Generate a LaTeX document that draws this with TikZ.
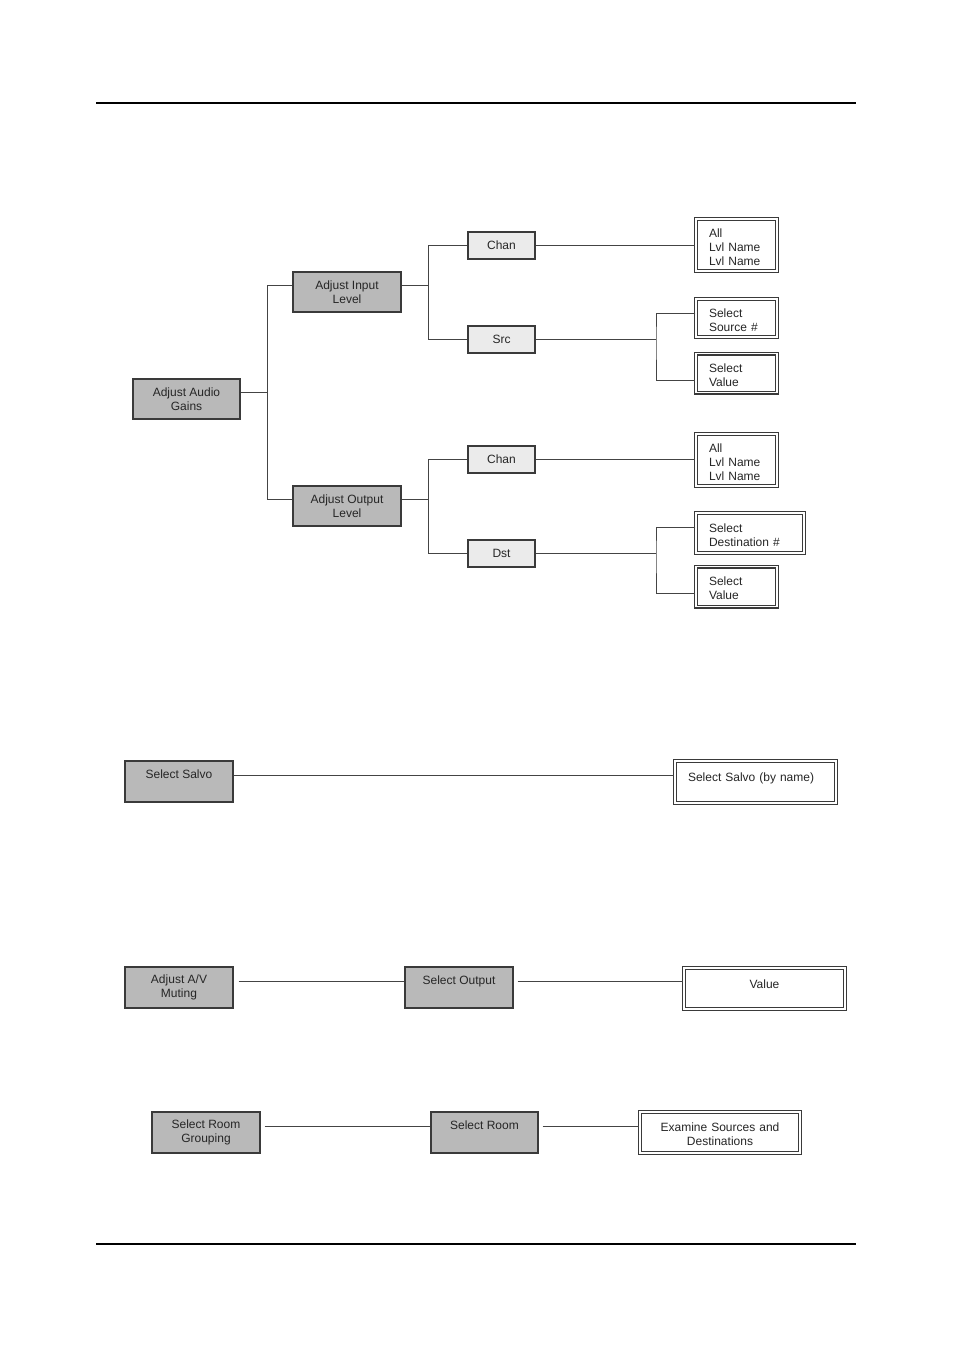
\documentclass[tikz,border=0pt]{standalone}
\usepackage{fontspec}
\setmainfont{Liberation Sans}
\usepackage{xcolor}
\usetikzlibrary{positioning,calc}
\definecolor{ink}{HTML}{3A3A3A}
\definecolor{wiregray}{HTML}{444444}
\definecolor{menugray}{HTML}{B9B9B9}
\definecolor{keygray}{HTML}{EBEBEB}
\definecolor{txt}{HTML}{262626}
\newcommand\boxfont{\fontsize{12}{14}\selectfont}
\tikzset{
  menubox/.style={draw=ink,line width=1.2pt,fill=menugray,inner sep=0pt,text=txt,
                  minimum width=108pt,minimum height=41pt,align=center,font=\boxfont},
  keybox/.style={draw=ink,line width=1.2pt,fill=keygray,inner sep=0pt,text=txt,
                 minimum width=67pt,minimum height=27pt,align=center,font=\boxfont},
  optbox/.style={draw=ink,line width=1.3pt,double=white,double distance=1.4pt,text=txt,
                 fill=white,inner sep=0pt,text height=13pt,align=left,font=\boxfont},
  wire/.style={draw=wiregray,line width=1pt}
}

\begin{document}
\begin{tikzpicture}[x=1pt,y=-1pt]
  \useasboundingbox (0,0) rectangle (953,1352);
  % page rules
  \draw[line width=2pt] (96,103) -- (856,103);
  \draw[line width=2pt] (96,1244) -- (856,1244);

  % audio gains tree
  \node[menubox,minimum width=107pt,minimum height=40pt] (audio)  at (186.5,399) {Adjust Audio\\Gains};
  \node[menubox,minimum height=40pt] (inlvl)  at (347,292) {Adjust Input\\Level};
  \node[menubox,minimum height=40pt] (outlvl) at (347,506) {Adjust Output\\Level};

  \node[keybox] (chanin)  at (501.5,245.5) {Chan};
  \node[keybox] (src)     at (501.5,339.5) {Src};
  \node[keybox] (chanout) at (501.5,459.5) {Chan};
  \node[keybox] (dst)     at (501.5,553.5) {Dst};

  \node[optbox,minimum width=81pt,minimum height=52pt,text width=55pt] (allin)  at (736.5,245) {All\\Lvl Name\\Lvl Name};
  \node[optbox,minimum width=81pt,minimum height=38pt,text width=55pt] (srcnum) at (736.5,318) {Select\\Source \#};
  \node[optbox,minimum width=81pt,minimum height=39pt,text width=55pt] (valin)  at (736.5,373) {Select\\Value};
  \node[optbox,minimum width=81pt,minimum height=52pt,text width=55pt] (allout) at (736.5,460) {All\\Lvl Name\\Lvl Name};
  \node[optbox,minimum width=108pt,minimum height=40pt,text width=82pt] (dstnum) at (750,533) {Select\\Destination \#};
  \node[optbox,minimum width=81pt,minimum height=40pt,text width=55pt] (valout) at (736.5,586.5) {Select\\Value};

  \draw[wire] ([yshift=7pt]audio.east) -- ++(27,0) coordinate (bra);
  \draw[wire] ([yshift=7pt]inlvl.west) -| (bra) |- ([yshift=7pt]outlvl.west);
  \draw[wire] ([yshift=7pt]inlvl.east) -- ++(27,0) coordinate (brin);
  \draw[wire] (chanin.west) -| (brin) |- (src.west);
  \draw[wire] ([yshift=7pt]outlvl.east) -- ++(27,0) coordinate (brout);
  \draw[wire] (chanout.west) -| (brout) |- (dst.west);

  \draw[wire] (chanin.east) -- (chanin.east -| allin.west);
  \draw[wire] (chanout.east) -- (chanout.east -| allout.west);
  \coordinate (brsrc) at (656,339.5);
  \draw[wire] (src.east) -- (brsrc);
  \draw[wire] ([yshift=5pt]srcnum.west) -| (brsrc) |- ([yshift=-7pt]valin.west);
  \coordinate (brdst) at (656,553.5);
  \draw[wire] (dst.east) -- (brdst);
  \draw[wire] ([yshift=6pt]dstnum.west) -| (brdst) |- ([yshift=-6.5pt]valout.west);

  % salvo
  \node[menubox] (salvo) at (179,781.5) {Select Salvo\\\mbox{}};
  \node[optbox,minimum width=161pt,minimum height=42pt,text width=135pt] (salvoname) at (755.5,782) {Select Salvo (by name)\\\mbox{}};
  \draw[wire] ([yshift=6.5pt]salvo.east) -- ([yshift=6.5pt]salvo.east -| salvoname.west);

  % a/v muting
  \node[menubox] (muting) at (179,987.5) {Adjust A/V\\Muting};
  \node[menubox] (selout) at (459,987.5) {Select Output\\\mbox{}};
  \node[optbox,minimum width=161pt,minimum height=41pt,text width=135pt,align=center] (value) at (764.5,988.5) {Value\\\mbox{}};
  \draw[wire,shorten <=5pt] ([yshift=6.5pt]muting.east) -- ([yshift=6.5pt]muting.east -| selout.west);
  \draw[wire,shorten <=4pt] ([yshift=6.5pt]selout.east) -- ([yshift=6.5pt]selout.east -| value.west);

  % rooms
  \node[menubox] (roomgrp) at (206,1132.5) {Select Room\\Grouping};
  \node[menubox,minimum width=107pt] (room) at (484.5,1132.5) {Select Room\\\mbox{}};
  \node[optbox,minimum width=160pt,minimum height=41pt,text width=135pt,align=center] (examine) at (720,1132.5) {Examine Sources and\\Destinations};
  \draw[wire,shorten <=4pt] ([yshift=6.5pt]roomgrp.east) -- ([yshift=6.5pt]roomgrp.east -| room.west);
  \draw[wire,shorten <=4pt] ([yshift=6.5pt]room.east) -- ([yshift=6.5pt]room.east -| examine.west);
\end{tikzpicture}
\end{document}
